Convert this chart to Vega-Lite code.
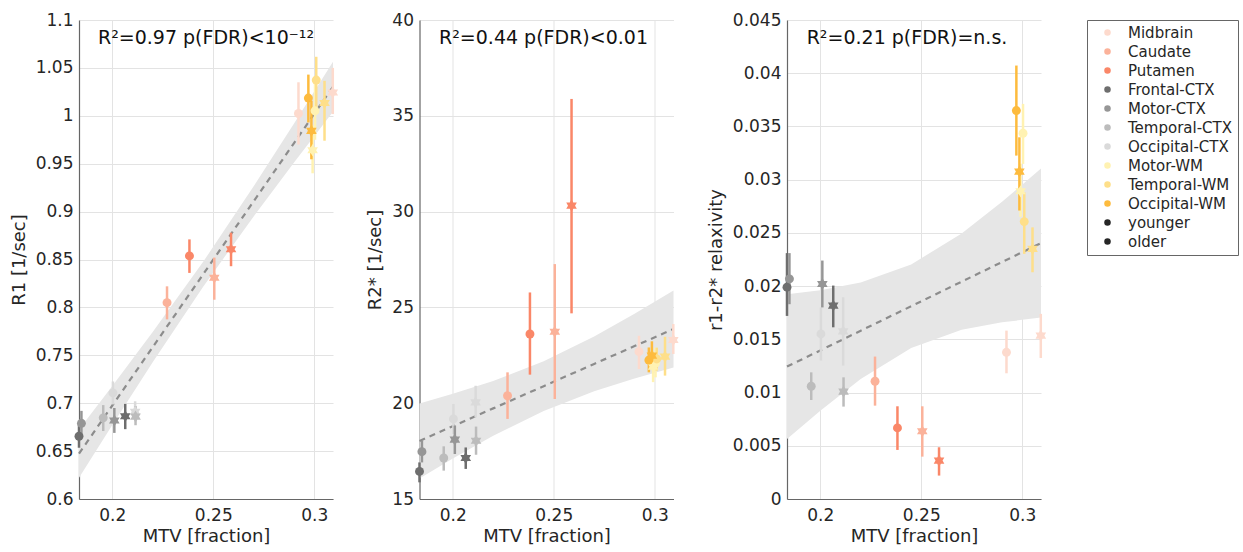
{
  "$schema": "https://vega.github.io/schema/vega-lite/v6.json",
  "padding": {"left": 10, "top": 11, "right": 5, "bottom": 0},
  "background": "white",
  "config": {
    "font": "DejaVu Sans",
    "view": {"stroke": null},
    "axis": {
      "labelFont": "DejaVu Sans", "labelFontSize": 17, "labelColor": "#262626",
      "titleFont": "DejaVu Sans", "titleFontSize": 18, "titleFontWeight": "normal", "titleColor": "#262626",
      "domainColor": "#666666", "domainWidth": 1.2, "gridColor": "#e3e3e3", "gridWidth": 1,
      "ticks": false, "labelFlush": false, "labelOverlap": false, "labelBound": false
    },
    "axisX": {"labelPadding": 8, "titlePadding": 4},
    "axisY": {"labelPadding": 6, "titlePadding": 7},
    "title": {"font": "DejaVu Sans", "fontSize": 19, "fontWeight": "normal", "color": "#111111", "anchor": "middle", "offset": -37, "baseline": "alphabetic", "frame": "group"}
  },
  "datasets": {
    "pts": [
      {"region": "Frontal-CTX", "age": "younger", "mtv": 0.1835, "r1": 0.6655, "r1lo": 0.6535, "r1hi": 0.6775, "r2": 16.44, "r2lo": 15.87, "r2hi": 16.91, "rx": 0.0199, "rxlo": 0.0172, "rxhi": 0.0231},
      {"region": "Motor-CTX", "age": "younger", "mtv": 0.1847, "r1": 0.679, "r1lo": 0.668, "r1hi": 0.692, "r2": 17.47, "r2lo": 16.91, "r2hi": 18.04, "rx": 0.02068, "rxlo": 0.0183, "rxhi": 0.0231},
      {"region": "Temporal-CTX", "age": "younger", "mtv": 0.1955, "r1": 0.6847, "r1lo": 0.671, "r1hi": 0.698, "r2": 17.14, "r2lo": 16.48, "r2hi": 17.75, "rx": 0.01059, "rxlo": 0.0093, "rxhi": 0.0119},
      {"region": "Occipital-CTX", "age": "younger", "mtv": 0.2003, "r1": 0.7108, "r1lo": 0.6987, "r1hi": 0.7227, "r2": 19.18, "r2lo": 18.39, "r2hi": 19.96, "rx": 0.01551, "rxlo": 0.013, "rxhi": 0.018},
      {"region": "Motor-CTX", "age": "older", "mtv": 0.201, "r1": 0.682, "r1lo": 0.669, "r1hi": 0.695, "r2": 18.1, "r2lo": 17.35, "r2hi": 18.83, "rx": 0.0202, "rxlo": 0.018, "rxhi": 0.0224},
      {"region": "Frontal-CTX", "age": "older", "mtv": 0.2064, "r1": 0.6864, "r1lo": 0.6729, "r1hi": 0.6993, "r2": 17.14, "r2lo": 16.57, "r2hi": 17.69, "rx": 0.01817, "rxlo": 0.01613, "rxhi": 0.02005},
      {"region": "Occipital-CTX", "age": "older", "mtv": 0.2113, "r1": 0.691, "r1lo": 0.683, "r1hi": 0.702, "r2": 20.04, "r2lo": 19.26, "r2hi": 20.91, "rx": 0.01575, "rxlo": 0.01253, "rxhi": 0.01895},
      {"region": "Temporal-CTX", "age": "older", "mtv": 0.2115, "r1": 0.686, "r1lo": 0.677, "r1hi": 0.697, "r2": 18.04, "r2lo": 17.31, "r2hi": 18.78, "rx": 0.01009, "rxlo": 0.00868, "rxhi": 0.01143},
      {"region": "Caudate", "age": "younger", "mtv": 0.2271, "r1": 0.8049, "r1lo": 0.7875, "r1hi": 0.822, "r2": 20.39, "r2lo": 19.18, "r2hi": 21.61, "rx": 0.01106, "rxlo": 0.00877, "rxhi": 0.01338},
      {"region": "Putamen", "age": "younger", "mtv": 0.2382, "r1": 0.8537, "r1lo": 0.836, "r1hi": 0.871, "r2": 23.61, "r2lo": 21.49, "r2hi": 25.78, "rx": 0.00668, "rxlo": 0.00461, "rxhi": 0.00871},
      {"region": "Caudate", "age": "older", "mtv": 0.2505, "r1": 0.831, "r1lo": 0.808, "r1hi": 0.852, "r2": 23.73, "r2lo": 20.22, "r2hi": 27.26, "rx": 0.00636, "rxlo": 0.00398, "rxhi": 0.00871},
      {"region": "Putamen", "age": "older", "mtv": 0.2588, "r1": 0.8607, "r1lo": 0.843, "r1hi": 0.878, "r2": 30.31, "r2lo": 24.69, "r2hi": 35.88, "rx": 0.00361, "rxlo": 0.0022, "rxhi": 0.00486},
      {"region": "Midbrain", "age": "younger", "mtv": 0.2922, "r1": 1.0024, "r1lo": 0.97, "r1hi": 1.035, "r2": 22.69, "r2lo": 21.78, "r2hi": 23.52, "rx": 0.01378, "rxlo": 0.01181, "rxhi": 0.01582},
      {"region": "Motor-WM", "age": "older", "mtv": 0.2992, "r1": 0.9641, "r1lo": 0.94, "r1hi": 0.99, "r2": 21.9, "r2lo": 21.1, "r2hi": 22.7, "rx": 0.02891, "rxlo": 0.0265, "rxhi": 0.0315},
      {"region": "Motor-WM", "age": "younger", "mtv": 0.3004, "r1": 1.0052, "r1lo": 0.975, "r1hi": 1.035, "r2": 22.1, "r2lo": 21.35, "r2hi": 22.9, "rx": 0.03436, "rxlo": 0.03148, "rxhi": 0.03712},
      {"region": "Temporal-WM", "age": "younger", "mtv": 0.301, "r1": 1.0373, "r1lo": 1.007, "r1hi": 1.0616, "r2": 22.31, "r2lo": 21.7, "r2hi": 22.9, "rx": 0.02606, "rxlo": 0.02303, "rxhi": 0.02881},
      {"region": "Temporal-WM", "age": "older", "mtv": 0.3051, "r1": 1.0133, "r1lo": 0.974, "r1hi": 1.0365, "r2": 22.43, "r2lo": 21.44, "r2hi": 23.47, "rx": 0.0235, "rxlo": 0.0213, "rxhi": 0.02552},
      {"region": "Occipital-WM", "age": "younger", "mtv": 0.2971, "r1": 1.0185, "r1lo": 0.993, "r1hi": 1.043, "r2": 22.25, "r2lo": 21.61, "r2hi": 22.91, "rx": 0.03649, "rxlo": 0.03226, "rxhi": 0.04072},
      {"region": "Occipital-WM", "age": "older", "mtv": 0.2986, "r1": 0.9843, "r1lo": 0.9546, "r1hi": 1.0157, "r2": 22.48, "r2lo": 21.78, "r2hi": 23.23, "rx": 0.03076, "rxlo": 0.0271, "rxhi": 0.03398},
      {"region": "Midbrain", "age": "older", "mtv": 0.3092, "r1": 1.0243, "r1lo": 1.0018, "r1hi": 1.05, "r2": 23.3, "r2lo": 22.57, "r2hi": 24.13, "rx": 0.01535, "rxlo": 0.01325, "rxhi": 0.01739}
    ],
    "fit": [
      {"mtv": 0.1835, "r1": 0.6474, "r1lo": 0.6223, "r1hi": 0.6725, "r2": 18.03, "r2lo": 16.07, "r2hi": 19.99, "rx": 0.01244, "rxlo": 0.00564, "rxhi": 0.01924},
      {"mtv": 0.2, "r1": 0.6976, "r1lo": 0.6772, "r1hi": 0.718, "r2": 18.8, "r2lo": 17.11, "r2hi": 20.49, "rx": 0.01396, "rxlo": 0.0083, "rxhi": 0.01962},
      {"mtv": 0.22, "r1": 0.7585, "r1lo": 0.7428, "r1hi": 0.7742, "r2": 19.73, "r2lo": 18.3, "r2hi": 21.16, "rx": 0.01581, "rxlo": 0.01128, "rxhi": 0.02034},
      {"mtv": 0.245, "r1": 0.8346, "r1lo": 0.8216, "r1hi": 0.8476, "r2": 20.89, "r2lo": 19.59, "r2hi": 22.19, "rx": 0.01811, "rxlo": 0.01419, "rxhi": 0.02203},
      {"mtv": 0.27, "r1": 0.9107, "r1lo": 0.895, "r1hi": 0.9264, "r2": 22.05, "r2lo": 20.62, "r2hi": 23.48, "rx": 0.02042, "rxlo": 0.01589, "rxhi": 0.02495},
      {"mtv": 0.29, "r1": 0.9716, "r1lo": 0.9512, "r1hi": 0.992, "r2": 22.98, "r2lo": 21.29, "r2hi": 24.67, "rx": 0.02226, "rxlo": 0.0166, "rxhi": 0.02792},
      {"mtv": 0.3093, "r1": 1.0303, "r1lo": 1.0043, "r1hi": 1.0563, "r2": 23.87, "r2lo": 21.86, "r2hi": 25.88, "rx": 0.02404, "rxlo": 0.01704, "rxhi": 0.03104}
    ]
  },
  "spacing": 27.5,
  "hconcat": [
    {
      "width": 254, "height": 479,
      "title": {"text": "R²=0.97 p(FDR)<10⁻¹²"},
      "encoding": {
        "x": {"field": "mtv", "type": "quantitative", "title": "MTV [fraction]", "scale": {"domain": [0.1835, 0.3093], "nice": false, "zero": false}, "axis": {"values": [0.2, 0.25, 0.3], "format": "~g", "grid": true}}
      },
      "layer": [
        {"data": {"name": "fit"}, "mark": {"type": "area", "color": "#e6e6e6", "opacity": 1},
         "encoding": {"y": {"field": "r1lo", "type": "quantitative", "title": "R1 [1/sec]", "scale": {"domain": [0.6, 1.1], "nice": false, "zero": false}, "axis": {"values": [0.6, 0.65, 0.7, 0.75, 0.8, 0.85, 0.9, 0.95, 1, 1.05, 1.1], "format": "~g", "grid": true}}, "y2": {"field": "r1hi"}}},
        {"data": {"name": "fit"}, "mark": {"type": "line", "color": "#8c8c8c", "strokeDash": [6, 5], "strokeWidth": 2.2},
         "encoding": {"y": {"field": "r1", "type": "quantitative", "title": "R1 [1/sec]"}}},
        {"data": {"name": "pts"}, "mark": {"type": "rule", "strokeWidth": 2.5},
         "encoding": {"y": {"field": "r1lo", "type": "quantitative", "title": "R1 [1/sec]"}, "y2": {"field": "r1hi"},
           "stroke": {"field": "region", "type": "nominal", "legend": null,
             "scale": {"domain": ["Midbrain", "Caudate", "Putamen", "Frontal-CTX", "Motor-CTX", "Temporal-CTX", "Occipital-CTX", "Motor-WM", "Temporal-WM", "Occipital-WM"], "range": ["#fddacd", "#fbb29a", "#fa8768", "#6e6e6e", "#969696", "#bcbcbc", "#dadada", "#fff2b2", "#fedf8a", "#fdbb3e"]}}}},
        {"data": {"name": "pts"}, "mark": {"type": "point", "filled": true, "opacity": 1},
         "encoding": {"y": {"field": "r1", "type": "quantitative", "title": "R1 [1/sec]"},
           "color": {"field": "region", "type": "nominal",
             "scale": {"domain": ["Midbrain", "Caudate", "Putamen", "Frontal-CTX", "Motor-CTX", "Temporal-CTX", "Occipital-CTX", "Motor-WM", "Temporal-WM", "Occipital-WM", "younger", "older"], "range": ["#fddacd", "#fbb29a", "#fa8768", "#6e6e6e", "#969696", "#bcbcbc", "#dadada", "#fff2b2", "#fedf8a", "#fdbb3e", "#262626", "#262626"]},
             "legend": {
               "title": null, "orient": "right", "offset": 40, "padding": 5, "rowPadding": 3,
               "labelFontSize": 15, "labelColor": "#262626", "labelFont": "DejaVu Sans",
               "symbolOffset": 8, "labelOffset": 13, "strokeColor": "#666666", "fillColor": "white",
               "symbolType": "circle", "symbolSize": 42,
               "values": ["Midbrain", "Caudate", "Putamen", "Frontal-CTX", "Motor-CTX", "Temporal-CTX", "Occipital-CTX", "Motor-WM", "Temporal-WM", "Occipital-WM", "younger", "older"],
               "encode": {"symbols": {
                 "shape": {"value": {"expr": "datum.value === 'older' ? 'M0,-1L0.2887,-0.5L0.866,-0.5L0.577,0L0.866,0.5L0.2887,0.5L0,1L-0.2887,0.5L-0.866,0.5L-0.577,0L-0.866,-0.5L-0.2887,-0.5Z' : 'circle'"}},
                 "size": {"value": {"expr": "datum.value === 'older' ? 40 : (datum.value === 'younger' ? 30 : 42)"}}
               }}
             }},
           "shape": {"field": "age", "type": "nominal", "legend": null, "scale": {"domain": ["younger", "older"], "range": ["circle", "M0,-1L0.2887,-0.5L0.866,-0.5L0.577,0L0.866,0.5L0.2887,0.5L0,1L-0.2887,0.5L-0.866,0.5L-0.577,0L-0.866,-0.5L-0.2887,-0.5Z"]}},
           "size": {"field": "age", "type": "nominal", "legend": null, "scale": {"domain": ["younger", "older"], "range": [80, 150]}}}}
      ]
    },
    {
      "width": 254, "height": 479,
      "title": {"text": "R²=0.44 p(FDR)<0.01", "dx": -3},
      "encoding": {
        "x": {"field": "mtv", "type": "quantitative", "title": "MTV [fraction]", "scale": {"domain": [0.1835, 0.3093], "nice": false, "zero": false}, "axis": {"values": [0.2, 0.25, 0.3], "format": "~g", "grid": true}}
      },
      "layer": [
        {"data": {"name": "fit"}, "mark": {"type": "area", "color": "#e6e6e6", "opacity": 1},
         "encoding": {"y": {"field": "r2lo", "type": "quantitative", "title": "R2* [1/sec]", "scale": {"domain": [15, 40], "nice": false, "zero": false}, "axis": {"values": [15, 20, 25, 30, 35, 40], "format": "~g", "grid": true}}, "y2": {"field": "r2hi"}}},
        {"data": {"name": "fit"}, "mark": {"type": "line", "color": "#8c8c8c", "strokeDash": [6, 5], "strokeWidth": 2.2},
         "encoding": {"y": {"field": "r2", "type": "quantitative", "title": "R2* [1/sec]"}}},
        {"data": {"name": "pts"}, "mark": {"type": "rule", "strokeWidth": 2.5},
         "encoding": {"y": {"field": "r2lo", "type": "quantitative", "title": "R2* [1/sec]"}, "y2": {"field": "r2hi"},
           "stroke": {"field": "region", "type": "nominal", "legend": null}}},
        {"data": {"name": "pts"}, "mark": {"type": "point", "filled": true, "opacity": 1},
         "encoding": {"y": {"field": "r2", "type": "quantitative", "title": "R2* [1/sec]"},
           "color": {"field": "region", "type": "nominal"},
           "shape": {"field": "age", "type": "nominal", "legend": null},
           "size": {"field": "age", "type": "nominal", "legend": null}}}
      ]
    },
    {
      "width": 254, "height": 479,
      "title": {"text": "R²=0.21 p(FDR)=n.s.", "dx": -7},
      "encoding": {
        "x": {"field": "mtv", "type": "quantitative", "title": "MTV [fraction]", "scale": {"domain": [0.1835, 0.3093], "nice": false, "zero": false}, "axis": {"values": [0.2, 0.25, 0.3], "format": "~g", "grid": true}}
      },
      "layer": [
        {"data": {"name": "fit"}, "mark": {"type": "area", "color": "#e6e6e6", "opacity": 1},
         "encoding": {"y": {"field": "rxlo", "type": "quantitative", "title": "r1-r2* relaxivity", "scale": {"domain": [0, 0.045], "nice": false, "zero": false}, "axis": {"values": [0, 0.005, 0.01, 0.015, 0.02, 0.025, 0.03, 0.035, 0.04, 0.045], "format": "~g", "grid": true}}, "y2": {"field": "rxhi"}}},
        {"data": {"name": "fit"}, "mark": {"type": "line", "color": "#8c8c8c", "strokeDash": [6, 5], "strokeWidth": 2.2},
         "encoding": {"y": {"field": "rx", "type": "quantitative", "title": "r1-r2* relaxivity"}}},
        {"data": {"name": "pts"}, "mark": {"type": "rule", "strokeWidth": 2.5},
         "encoding": {"y": {"field": "rxlo", "type": "quantitative", "title": "r1-r2* relaxivity"}, "y2": {"field": "rxhi"},
           "stroke": {"field": "region", "type": "nominal", "legend": null}}},
        {"data": {"name": "pts"}, "mark": {"type": "point", "filled": true, "opacity": 1},
         "encoding": {"y": {"field": "rx", "type": "quantitative", "title": "r1-r2* relaxivity"},
           "color": {"field": "region", "type": "nominal"},
           "shape": {"field": "age", "type": "nominal", "legend": null},
           "size": {"field": "age", "type": "nominal", "legend": null}}}
      ]
    }
  ],
  "resolve": {"scale": {"color": "shared", "stroke": "shared", "shape": "shared", "size": "shared"}}
}
